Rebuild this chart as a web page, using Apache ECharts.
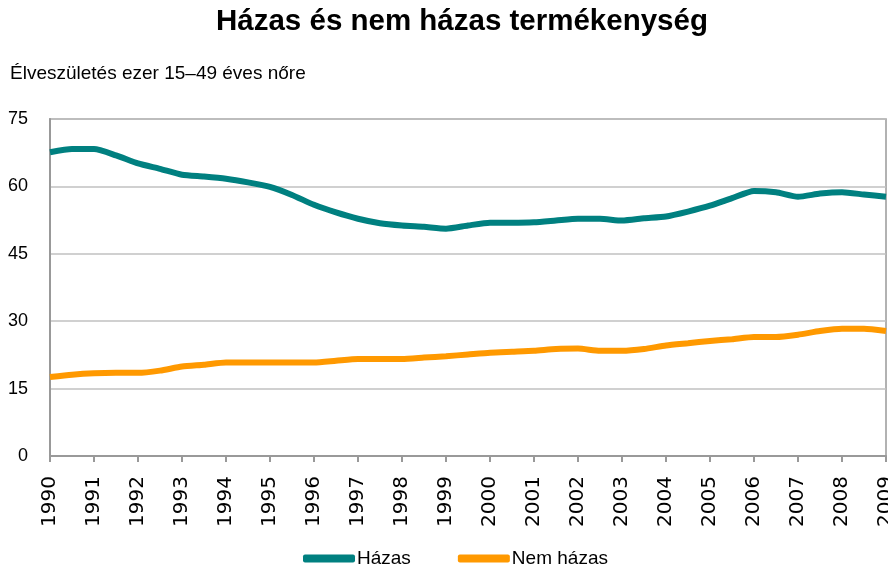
<!DOCTYPE html>
<html>
<head>
<meta charset="utf-8">
<script src="https://cdn.jsdelivr.net/npm/echarts@6/dist/echarts.min.js"></script>
<style>
  html, body { margin: 0; padding: 0; background: #fff; }
  #chart { width: 888px; height: 567px; }
</style>
</head>
<body>
<div id="chart"></div>
<script>
// half-year observation points
const periods = [
  1990, 1990.5, 1991, 1991.5, 1992, 1992.5, 1993, 1993.5, 1994, 1994.5,
  1995, 1995.5, 1996, 1996.5, 1997, 1997.5, 1998, 1998.5, 1999, 1999.5,
  2000, 2000.5, 2001, 2001.5, 2002, 2002.5, 2003, 2003.5, 2004, 2004.5,
  2005, 2005.5, 2006, 2006.5, 2007, 2007.5, 2008, 2008.5, 2009
];

const hazas = [
  67.6, 68.3, 68.3, 66.9, 65.1, 63.9, 62.6, 62.2, 61.7, 60.9,
  59.9, 58.1, 55.9, 54.2, 52.8, 51.8, 51.3, 51.0, 50.6, 51.3,
  51.9, 51.9, 52.0, 52.4, 52.8, 52.8, 52.4, 52.9, 53.3, 54.4,
  55.7, 57.4, 59.0, 58.7, 57.7, 58.4, 58.7, 58.2, 57.7
];

const nemHazas = [
  17.6, 18.1, 18.4, 18.5, 18.5, 19.0, 19.9, 20.3, 20.8, 20.8,
  20.8, 20.8, 20.8, 21.2, 21.6, 21.6, 21.6, 21.9, 22.2, 22.6,
  23.0, 23.2, 23.4, 23.8, 23.9, 23.4, 23.4, 23.8, 24.6, 25.1,
  25.6, 26.0, 26.5, 26.5, 27.0, 27.8, 28.3, 28.3, 27.8
];

const seriesNames = ["Házas", "Nem házas"];

const font = "'Liberation Sans', Arial, sans-serif";

const chart = echarts.init(document.getElementById("chart"));

chart.setOption({
  animation: false,
  backgroundColor: "#fff",
  title: [
    {
      text: "Házas és nem házas termékenység",
      left: 211,
      top: 2,
      textStyle: { fontFamily: font, fontSize: 29.5, fontWeight: "bold", color: "#000" }
    },
    {
      text: "Élveszületés ezer 15–49 éves nőre",
      left: 5,
      top: 59,
      textStyle: { fontFamily: font, fontSize: 19, fontWeight: "normal", color: "#000" }
    }
  ],
  legend: {
    left: 298,
    top: 544,
    itemGap: 47,
    itemWidth: 52,
    itemHeight: 8,
    icon: "roundRect",
    textStyle: { fontFamily: font, fontSize: 19, color: "#000", padding: [0, 0, 0, -3] },
    data: seriesNames
  },
  grid: {
    left: 50,
    right: 2,
    top: 119,
    bottom: 111,
    outerBoundsMode: "none",
    show: true,
    borderColor: "#999",
    borderWidth: 1.5
  },
  xAxis: {
    type: "value",
    min: 1990,
    max: 2009,
    interval: 1,
    axisLine: { show: true, lineStyle: { color: "#999", width: 2 } },
    axisTick: { show: true, length: 6, lineStyle: { color: "#999", width: 2 } },
    splitLine: { show: false },
    axisLabel: {
      rotate: 90,
      margin: 12,
      padding: [0, 8, 0, 0],
      fontFamily: "'DejaVu Sans', sans-serif",
      fontSize: 20,
      color: "#000",
      formatter: (v) => String(v)
    }
  },
  yAxis: {
    type: "value",
    min: 0,
    max: 75,
    interval: 15,
    axisLine: { show: true, lineStyle: { color: "#999", width: 2 } },
    axisTick: { show: false },
    splitLine: { lineStyle: { color: "#c0c0c0", width: 1.5 } },
    axisLabel: { margin: 22, fontFamily: font, fontSize: 18, color: "#000" }
  },
  series: [
    {
      name: seriesNames[0],
      type: "line",
      data: periods.map((p, i) => [p, hazas[i]]),
      symbol: "none",
      smooth: 0.2,
      lineStyle: { color: "#008080", width: 6 },
      itemStyle: { color: "#008080" }
    },
    {
      name: seriesNames[1],
      type: "line",
      data: periods.map((p, i) => [p, nemHazas[i]]),
      symbol: "none",
      smooth: 0.2,
      lineStyle: { color: "#FF9900", width: 6 },
      itemStyle: { color: "#FF9900" }
    }
  ]
});
</script>
</body>
</html>
